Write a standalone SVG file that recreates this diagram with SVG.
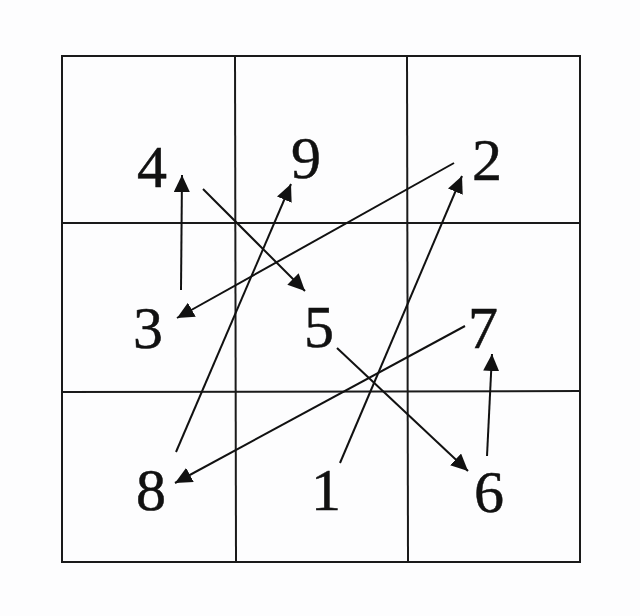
<svg xmlns="http://www.w3.org/2000/svg" width="640" height="616" viewBox="0 0 640 616">
<style>
.grid{stroke:#1a1a1a;stroke-width:2;fill:none}
.arr{stroke:#111;stroke-width:2;fill:none;marker-end:url(#ah)}
.num{font-family:"Liberation Serif","Times New Roman",serif;font-size:60px;fill:#111;stroke:#111;stroke-width:0.5;text-anchor:middle}
</style>
<defs>
<marker id="ah" markerUnits="userSpaceOnUse" markerWidth="17" markerHeight="16" refX="17" refY="8" orient="auto">
<path d="M0,0 L17,8 L0,16 z" fill="#111"/>
</marker>
</defs>
<rect width="640" height="616" fill="#fdfdfe"/>
<g id="grid" class="grid">
<rect x="62" y="56" width="518" height="506"/>
<line x1="235" y1="56" x2="236" y2="562"/>
<line x1="407" y1="56" x2="408" y2="562"/>
<line x1="62" y1="223" x2="580" y2="223"/>
<line x1="62" y1="392" x2="580" y2="391"/>
</g>
<g id="connectors">
<line class="arr" x1="340" y1="463" x2="462" y2="176"/>
<line class="arr" x1="454" y1="163" x2="177" y2="318"/>
<line class="arr" x1="181" y1="290" x2="182" y2="175"/>
<line class="arr" x1="203" y1="189" x2="305" y2="291"/>
<line class="arr" x1="337" y1="348" x2="468" y2="471"/>
<line class="arr" x1="487" y1="456" x2="492" y2="354"/>
<line class="arr" x1="465" y1="326" x2="175" y2="483"/>
<line class="arr" x1="176" y1="452" x2="291" y2="184"/>
</g>
<g id="n4"><text class="num" x="152" y="187">4</text></g>
<g id="n9"><text class="num" x="306" y="178">9</text></g>
<g id="n2"><text class="num" x="487" y="180">2</text></g>
<g id="n3"><text class="num" x="148" y="348">3</text></g>
<g id="n5"><text class="num" x="319" y="347">5</text></g>
<g id="n7"><text class="num" x="483" y="348">7</text></g>
<g id="n8"><text class="num" x="151" y="510">8</text></g>
<g id="n1"><text class="num" x="326" y="510">1</text></g>
<g id="n6"><text class="num" x="489" y="512">6</text></g>
</svg>
